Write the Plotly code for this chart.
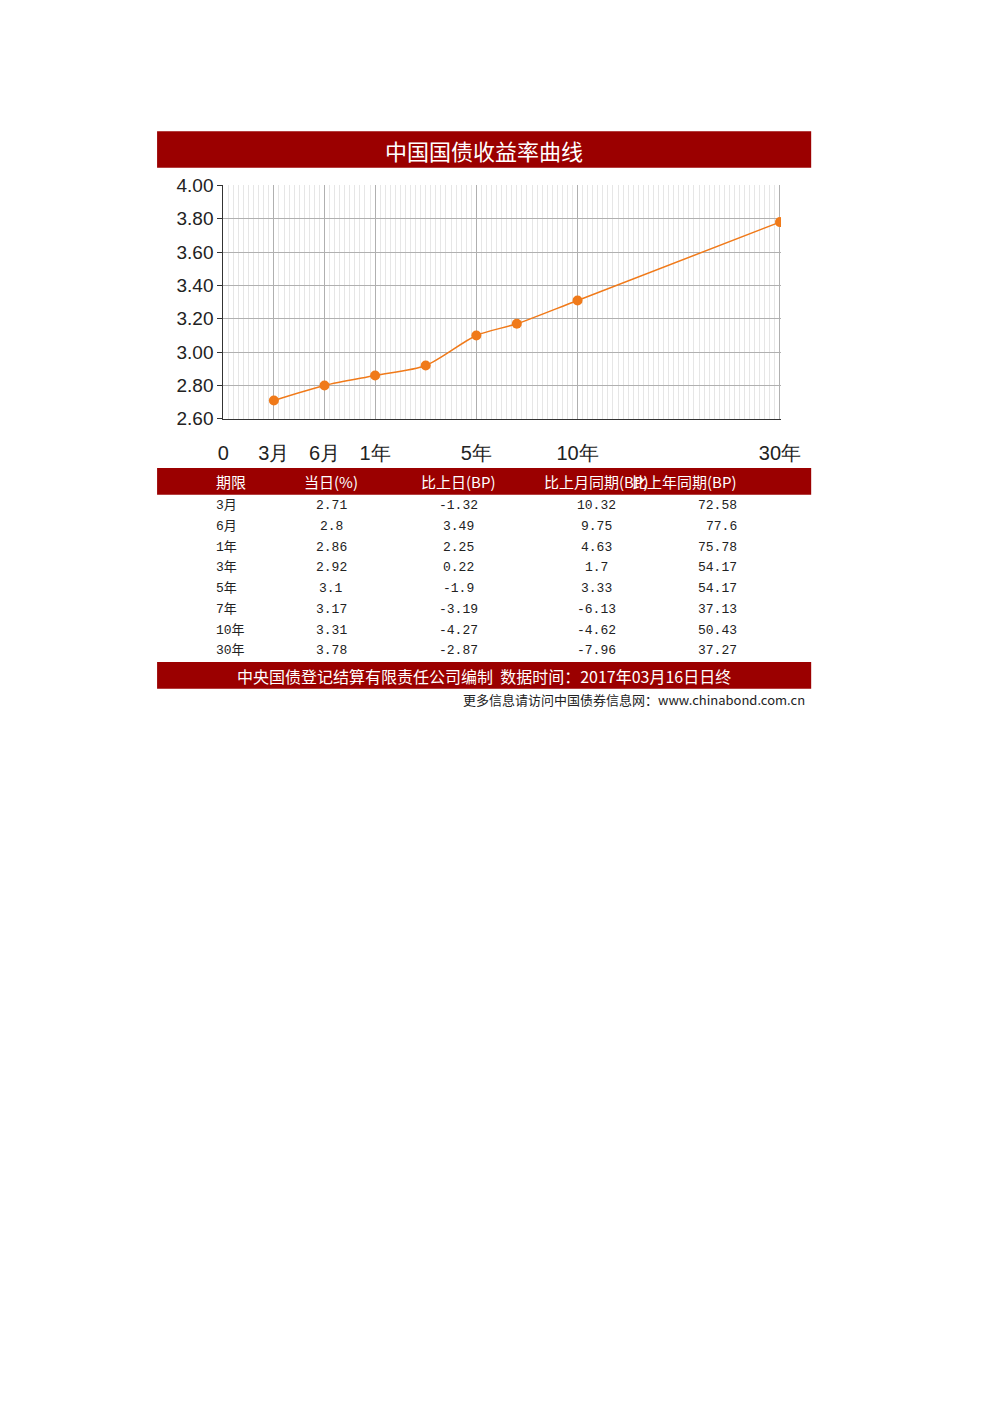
import plotly.graph_objects as go

terms = ["3月", "6月", "1年", "3年", "5年", "7年", "10年", "30年"]
term_pos = [1, 2, 3, 4, 5, 5.8, 7, 11]
yields = [2.71, 2.80, 2.86, 2.92, 3.10, 3.17, 3.31, 3.78]
chg_day = ["-1.32", "3.49", "2.25", "0.22", "-1.9", "-3.19", "-4.27", "-2.87"]
chg_month = ["10.32", "9.75", "4.63", "1.7", "3.33", "-6.13", "-4.62", "-7.96"]
chg_year = ["72.58", "77.6", "75.78", "54.17", "54.17", "37.13", "50.43", "37.27"]
yield_txt = ["2.71", "2.8", "2.86", "2.92", "3.1", "3.17", "3.31", "3.78"]
xtick_vals = [0, 1, 2, 3, 5, 7, 11]
xtick_text = ["0", "3月", "6月", "1年", "5年", "10年", "30年"]
headers = ["期限", "当日(%)", "比上日(BP)", "比上月同期(BP)", "比上年同期(BP)"]

W, H = 976, 1380
OFF = 8
RED = "#9b0000"
ORANGE = "#f07a1a"
FONT = "Noto Sans CJK SC"

def px(x): return (x - OFF) / W
def py(y): return 1 - (y - OFF) / H

fig = go.Figure()
fig.add_trace(go.Scatter(x=term_pos, y=yields, mode="lines+markers",
                         line=dict(color=ORANGE, width=1.5, shape="spline", smoothing=0.8),
                         marker=dict(color=ORANGE, size=10), hoverinfo="skip"))

shapes = []
annots = []
shapes.append(dict(type="rect", xref="paper", yref="paper", x0=px(155), x1=px(827),
                   y0=py(160), y1=py(123), fillcolor=RED, line_width=0))
annots.append(dict(text="中国国债收益率曲线", x=px(491), y=py(142), xref="paper", yref="paper",
                   yanchor="middle", showarrow=False, font=dict(family=FONT, size=22, color="white")))
shapes.append(dict(type="rect", xref="paper", yref="paper", x0=px(155), x1=px(827),
                   y0=py(492), y1=py(465), fillcolor=RED, line_width=0))
col_x = [213, 334, 465, 606, 753]
for cx, h in zip(col_x, headers):
    annots.append(dict(text=h, x=px(cx), y=py(479), xref="paper", yref="paper", showarrow=False,
                       yanchor="middle", font=dict(family=FONT, size=15, color="white")))
for i in range(len(terms)):
    yy = py(503 + 21.1 * i)
    for cx, v in zip(col_x, [terms[i], yield_txt[i], chg_day[i], chg_month[i], chg_year[i]]):
        annots.append(dict(text=v, x=px(cx), y=yy, xref="paper", yref="paper", showarrow=False,
                           yanchor="middle",
                           font=dict(family="Liberation Mono, " + FONT, size=13, color="#222")))
shapes.append(dict(type="rect", xref="paper", yref="paper", x0=px(155), x1=px(827),
                   y0=py(689), y1=py(662), fillcolor=RED, line_width=0))
annots.append(dict(text="中央国债登记结算有限责任公司编制  数据时间：2017年03月16日日终",
                   x=px(491), y=py(676), xref="paper", yref="paper", showarrow=False, yanchor="middle",
                   font=dict(family=FONT, size=16, color="white")))
annots.append(dict(text="更多信息请访问中国债券信息网：www.chinabond.com.cn",
                   x=px(823), y=py(700), xref="paper", yref="paper", showarrow=False, xanchor="right",
                   yanchor="middle", font=dict(family=FONT, size=13, color="#222")))

fig.update_layout(
    width=W, height=H, margin=dict(l=0, r=0, t=0, b=0),
    paper_bgcolor="white", plot_bgcolor="white", showlegend=False,
    shapes=shapes, annotations=annots,
    xaxis=dict(domain=[px(223), px(796)], range=[0, 11.02], tickvals=xtick_vals, ticktext=xtick_text,
               showgrid=True, gridcolor="#b0b0b0", gridwidth=1,
               minor=dict(dtick=0.1, showgrid=True, gridcolor="#e6e6e6", gridwidth=1),
               showline=True, linecolor="#333", linewidth=1, ticks="",
               tickfont=dict(family="Liberation Sans", size=20, color="#222"), ticklabelstandoff=16,
               zeroline=False),
    yaxis=dict(domain=[py(415), py(178)], range=[2.6, 4.0], dtick=0.2, tickformat=".2f",
               showgrid=True, gridcolor="#b0b0b0", showline=True, linecolor="#333", ticks="outside",
               ticklen=5, tickcolor="#333",
               tickfont=dict(family="Liberation Sans", size=19, color="#222"), zeroline=False),
)
fig.write_html("out.html")
